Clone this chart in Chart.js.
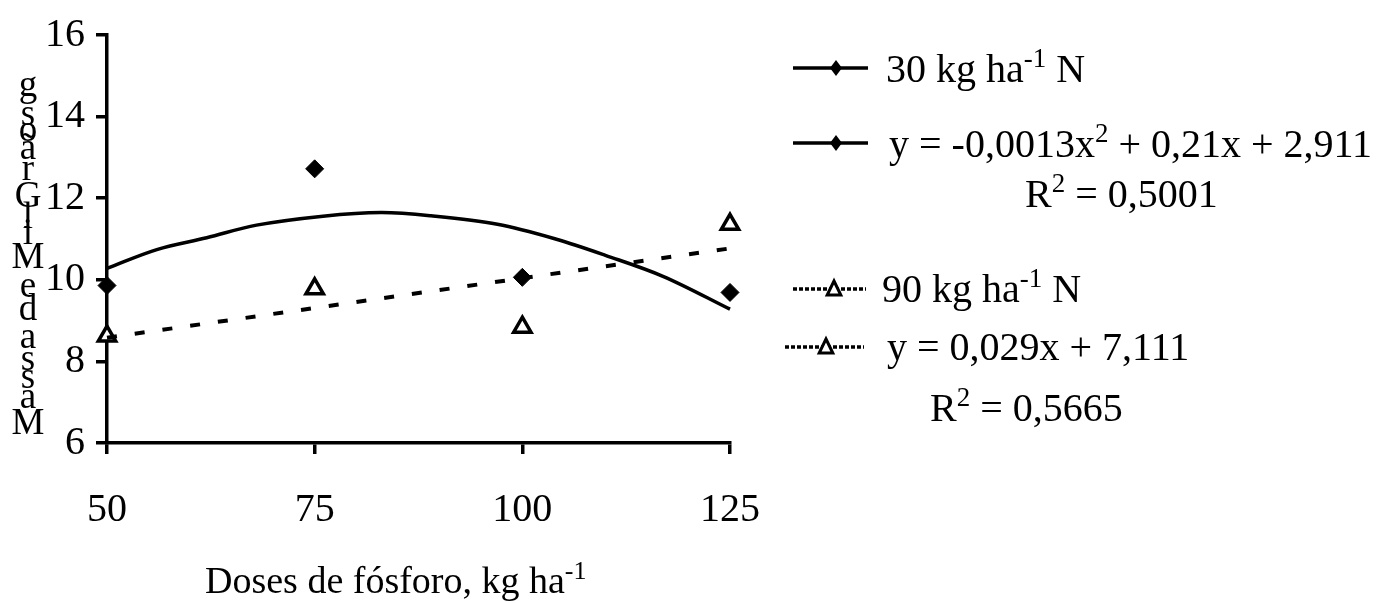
<!DOCTYPE html>
<html lang="pt">
<head>
  <meta charset="UTF-8">
  <title>Massa de mil grãos</title>
  <style>
    html, body { margin: 0; padding: 0; background: #fff; }
    #wrap { width: 1379px; height: 603px; }
  </style>
  <script src="https://cdn.jsdelivr.net/npm/chart.js"></script>
</head>
<body>
  <div id="wrap"><canvas id="chart" width="1379" height="603"></canvas></div>
  <script>
    // doses de fósforo (kg ha-1)
    const doses = [50, 75, 100, 125];
    const xTicks = [50, 75, 100, 125];
    // médias observadas
    const n30 = [9.86, 12.72, 10.06, 9.69];
    const n90 = [8.62, 9.78, 8.84, 11.36];
    // linha de tendência polinomial (30 kg ha-1 N)
    const polyX = [50, 56, 62, 68, 76, 83, 89, 97, 104, 110, 117, 125];
    const polyY = [10.28, 10.74, 11.03, 11.34, 11.56, 11.65, 11.57, 11.36, 11.0, 10.6, 10.08, 9.28];
    // linha de tendência linear (90 kg ha-1 N)
    const linX = [50, 125];
    const linY = [8.58, 10.77];

    const serif = "'Liberation Serif', 'Times New Roman', serif";
    const fs = 40;

    const toXY = (xs, ys) => xs.map((x, i) => ({ x: x, y: ys[i] }));

    // texto com expoentes: partes [texto, sobrescrito?]
    function drawRich(ctx, parts, x, y, size) {
      let cx = x;
      parts.forEach(p => {
        if (p[1]) {
          ctx.font = Math.round(size * 0.68) + 'px ' + serif;
          ctx.fillText(p[0], cx, y - size * 0.38);
        } else {
          ctx.font = size + 'px ' + serif;
          ctx.fillText(p[0], cx, y);
        }
        cx += ctx.measureText(p[0]).width;
      });
      return cx;
    }

    function diamond(ctx, x, y, r) {
      ctx.beginPath();
      ctx.moveTo(x, y - r); ctx.lineTo(x + r * 0.75, y);
      ctx.lineTo(x, y + r); ctx.lineTo(x - r * 0.75, y);
      ctx.closePath();
      ctx.fillStyle = '#000';
      ctx.fill();
    }

    function triangle(ctx, x, y, r) {
      ctx.beginPath();
      ctx.moveTo(x, y - r); ctx.lineTo(x + r * 0.85, y + r * 0.75);
      ctx.lineTo(x - r * 0.85, y + r * 0.75);
      ctx.closePath();
      ctx.fillStyle = '#fff';
      ctx.fill();
      ctx.lineWidth = 3;
      ctx.strokeStyle = '#000';
      ctx.stroke();
    }

    const extras = {
      id: 'extras',
      afterDraw(chart) {
        const ctx = chart.ctx;
        ctx.save();
        ctx.fillStyle = '#000';
        ctx.textBaseline = 'alphabetic';
        ctx.textAlign = 'left';

        // legenda
        function legLine(x1, x2, y, dash) {
          ctx.beginPath();
          ctx.setLineDash(dash);
          ctx.lineWidth = 3.5;
          ctx.strokeStyle = '#000';
          ctx.moveTo(x1, y); ctx.lineTo(x2, y);
          ctx.stroke();
          ctx.setLineDash([]);
        }
        legLine(793, 868, 68, []);
        diamond(ctx, 836, 68, 8);
        ctx.fillStyle = '#000';
        drawRich(ctx, [['30 kg ha', 0], ['-1', 1], [' N', 0]], 886, 82, fs);

        legLine(793, 868, 143, []);
        diamond(ctx, 836, 143, 8);
        ctx.fillStyle = '#000';
        drawRich(ctx, [['y = -0,0013x', 0], ['2', 1], [' + 0,21x + 2,911', 0]], 889, 157, fs);
        drawRich(ctx, [['R', 0], ['2', 1], [' = 0,5001', 0]], 1025, 207, fs);

        legLine(793, 866, 289, [4, 2]);
        triangle(ctx, 834, 289, 8);
        ctx.fillStyle = '#000';
        drawRich(ctx, [['90 kg ha', 0], ['-1', 1], [' N', 0]], 882, 302, fs);

        legLine(785, 864, 347, [4, 2]);
        triangle(ctx, 826, 347, 8);
        ctx.fillStyle = '#000';
        drawRich(ctx, [['y = 0,029x + 7,111', 0]], 887, 360, fs);
        drawRich(ctx, [['R', 0], ['2', 1], [' = 0,5665', 0]], 930, 421, fs);

        // título do eixo x
        ctx.fillStyle = '#000';
        drawRich(ctx, [['Doses de fósforo, kg ha', 0], ['-1', 1]], 205, 593, 38);

        // título do eixo y (letras empilhadas)
        const letters = ['M', 'a', 's', 's', 'a', 'd', 'e', 'M', 'i', 'l', 'G', 'r', 'ã', 'o', 's', 'g'];
        const ly = [424, 398, 378, 360, 338, 310, 287, 258, 234, 218, 197, 170, 149, 131, 115, 86];
        ctx.font = '37px ' + serif;
        ctx.textAlign = 'center';
        ctx.textBaseline = 'middle';
        letters.forEach((c, i) => ctx.fillText(c, 28, ly[i]));
        ctx.restore();
      }
    };

    const tickFont = { family: serif, size: fs };

    new Chart(document.getElementById('chart'), {
      type: 'scatter',
      data: {
        datasets: [
          {
            label: 'tendência 30',
            data: toXY(polyX, polyY),
            showLine: true,
            borderColor: '#000',
            borderWidth: 3.5,
            pointRadius: 0,
            tension: 0.35,
            clip: false
          },
          {
            label: 'tendência 90',
            data: toXY(linX, linY),
            showLine: true,
            borderColor: '#000',
            borderWidth: 4,
            borderDash: [10, 18],
            pointRadius: 0,
            clip: false
          },
          {
            label: '30 kg ha-1 N',
            data: toXY(doses, n30),
            pointStyle: 'rectRot',
            pointRadius: 9,
            backgroundColor: '#000',
            borderColor: '#000',
            borderWidth: 1,
            clip: false
          },
          {
            label: '90 kg ha-1 N',
            data: toXY(doses, n90),
            pointStyle: 'triangle',
            pointRadius: 10,
            backgroundColor: '#fff',
            borderColor: '#000',
            borderWidth: 3.5,
            clip: false
          }
        ]
      },
      options: {
        responsive: false,
        animation: false,
        layout: { padding: { top: 28, right: 649, bottom: 0, left: 0 } },
        plugins: { legend: { display: false }, tooltip: { enabled: false } },
        scales: {
          x: {
            type: 'linear',
            min: 50,
            max: 125,
            afterFit(scale) { scale.height = 160; },
            afterBuildTicks(scale) { scale.ticks = xTicks.map(v => ({ value: v })); },
            border: { color: '#000', width: 3.5 },
            grid: { drawOnChartArea: false, drawTicks: true, tickLength: 11, color: '#000', lineWidth: 3.5 },
            ticks: { font: tickFont, color: '#000', padding: 32, maxRotation: 0 }
          },
          y: {
            min: 6,
            max: 16,
            afterFit(scale) { scale.width = 107; },
            border: { color: '#000', width: 3.5 },
            grid: { drawOnChartArea: false, drawTicks: true, tickLength: 11, color: '#000', lineWidth: 3.5 },
            ticks: { font: tickFont, color: '#000', padding: 11, stepSize: 2 }
          }
        }
      },
      plugins: [extras]
    });
  </script>
</body>
</html>
